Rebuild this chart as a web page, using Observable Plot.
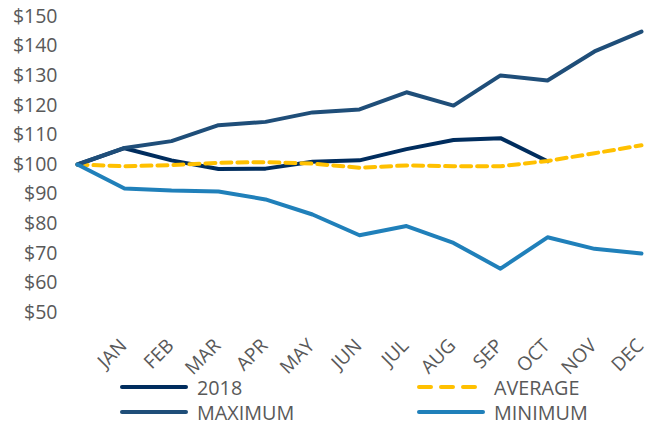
<!DOCTYPE html>
<html>
<head>
<meta charset="utf-8">
<script src="https://cdn.jsdelivr.net/npm/d3@7"></script>
<script src="https://cdn.jsdelivr.net/npm/@observablehq/plot@0.6"></script>
<style>
  body { margin: 0; background: #fff; font-family: "Open Sans", sans-serif; }
  #wrap { width: 656px; }
  svg.chart { display: block; }
  .legend { display: grid; grid-template-columns: 297px auto; padding-left: 120px; row-gap: 1px; margin-top: -7px; }
  .item { display: flex; align-items: center; height: 24px; color: #595959; font-size: 19.8px; }
  .item svg { margin-right: 9px; }
</style>
</head>
<body>
<div id="wrap"></div>
<script>
const months = ["JAN","FEB","MAR","APR","MAY","JUN","JUL","AUG","SEP","OCT","NOV","DEC"];
const yTicks = [50,60,70,80,90,100,110,120,130,140,150];
// index 0 = start point (no label), 1..12 = JAN..DEC
const series2018 = [100,105.5,101.4,98.5,98.6,100.9,101.4,105.2,108.3,108.9,101.1];
const seriesAverage = [100,99.4,99.8,100.6,100.8,100.3,98.9,99.7,99.4,99.4,101.2,103.8,106.5];
const seriesMaximum = [100,105.6,107.9,113.3,114.4,117.6,118.6,124.4,119.9,130.1,128.4,138.2,144.9];
const seriesMinimum = [100,91.9,91.2,90.9,88.2,83.1,76.1,79.2,73.5,64.8,75.4,71.5,69.9];

const names = ["2018","AVERAGE","MAXIMUM","MINIMUM"];
const colors = ["#002d5e","#ffc000","#1f4e79","#2080ba"];
const dashes = [null,"10,6",null,null];

const toRows = (arr, name) => arr.map((v, i) => ({i, v, name}));
const rows2018 = toRows(series2018, "2018");
const rowsAvg = toRows(seriesAverage, "AVERAGE");
const rowsMax = toRows(seriesMaximum, "MAXIMUM");
const rowsMin = toRows(seriesMinimum, "MINIMUM");

const chart = Plot.plot({
  width: 656,
  height: 382,
  marginLeft: 77,
  marginRight: 15,
  marginTop: 16,
  marginBottom: 70,
  className: "chart",
  style: {fontFamily: "'Open Sans', sans-serif", color: "#595959", background: "white"},
  x: {domain: [0, 12]},
  y: {domain: [50, 150]},
  marks: [
    Plot.axisY({ticks: yTicks, tickFormat: d => "$" + d, tickSize: 0, tickPadding: 20, fontSize: 19.5, label: null}),
    Plot.axisX({ticks: d3.range(1, 13), tickFormat: d => months[d - 1], tickSize: 0, tickRotate: -45, tickPadding: 30, dx: -1, fontSize: 19, label: null}),
    Plot.line(rows2018, {x: "i", y: "v", stroke: colors[0], strokeWidth: 4}),
    Plot.line(rowsAvg, {x: "i", y: "v", stroke: colors[1], strokeWidth: 4, strokeDasharray: dashes[1]}),
    Plot.line(rowsMax, {x: "i", y: "v", stroke: colors[2], strokeWidth: 4}),
    Plot.line(rowsMin, {x: "i", y: "v", stroke: colors[3], strokeWidth: 4})
  ]
});
const wrap = document.getElementById("wrap");
wrap.appendChild(chart);

const legend = document.createElement("div");
legend.className = "legend";
for (const k of [0,1,2,3]) {
  const it = document.createElement("div");
  it.className = "item";
  const dash = dashes[k] ? `stroke-dasharray="12,10"` : "";
  it.innerHTML = `<svg width="68" height="10"><line x1="2" y1="5" x2="66" y2="5" stroke="${colors[k]}" stroke-width="4" stroke-linecap="round" ${dash}/></svg><span>${names[k]}</span>`;
  legend.appendChild(it);
}
wrap.appendChild(legend);
</script>
</body>
</html>
